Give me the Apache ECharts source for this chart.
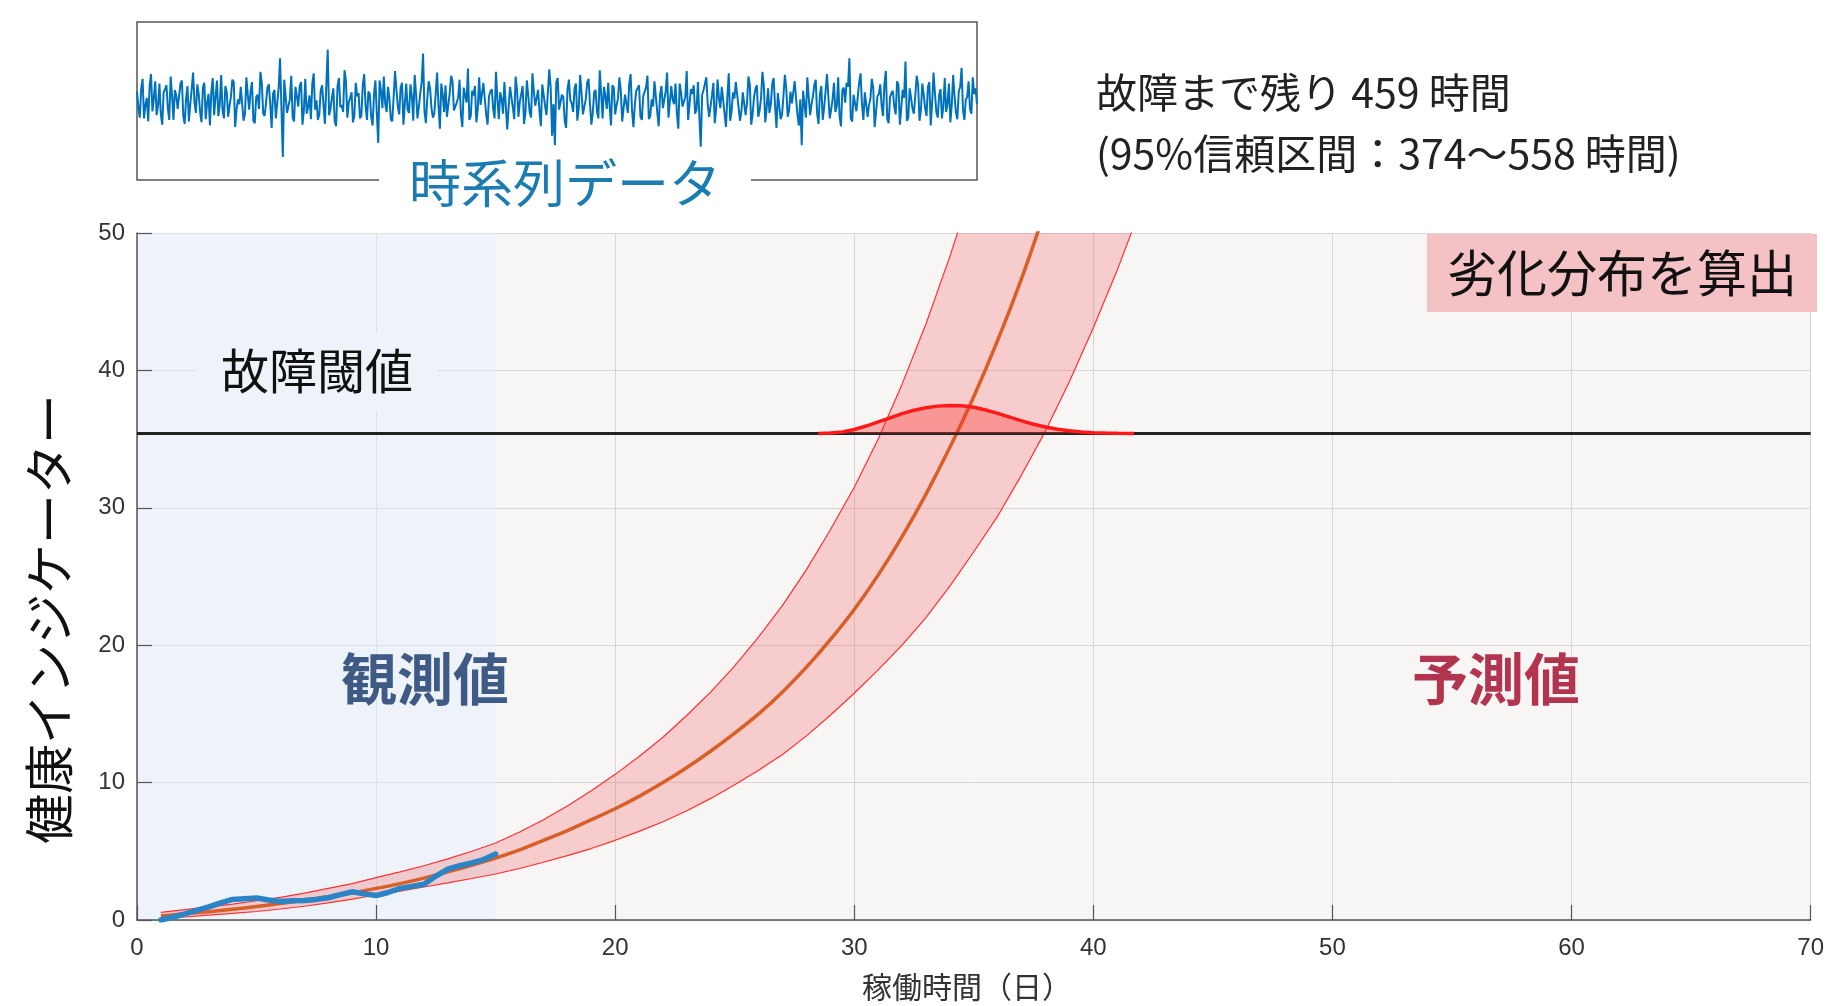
<!DOCTYPE html>
<html><head><meta charset="utf-8">
<script src="https://cdn.jsdelivr.net/npm/echarts@6.0.0/dist/echarts.min.js"></script>
<style>html,body{margin:0;padding:0;background:#fff;}#c{width:1827px;height:1006px;}</style>
</head><body><div id="c"></div>
<script>
// ---- data ----
const predX = [1,2,3,4,5,6,7,8,9,10,11,12,13,14,15,16,17,18,19,20,21,22,23,24,25,26,27,28,29,30,31,32,33,34,35,36,37,38];
const predMean = [0.3,0.45,0.6,0.78,0.98,1.2,1.43,1.7,1.98,2.3,2.65,3.05,3.5,3.98,4.5,5.1,5.8,6.5,7.3,8.1,9.0,10.0,11.1,12.3,13.6,15.0,16.6,18.4,20.4,22.6,25.1,27.9,31.0,34.4,38.1,42.2,46.7,51.7];
const bandX = [1,2,3,4,5,6,7,8,9,10,11,12,13,14,15,16,17,18,19,20,21,22,23,24,25,26,27,28,29,30,31,32,33,34,35,36,37,38,39,40,41,42];
const bandUpper = [0.55,0.75,0.95,1.15,1.4,1.65,1.95,2.3,2.65,3.08,3.5,3.95,4.45,5.0,5.6,6.4,7.3,8.3,9.4,10.6,11.9,13.3,14.9,16.6,18.5,20.6,22.9,25.5,28.4,31.5,35.0,39.0,43.4,48.3,53.7,59.7,66.4,73.8,82.0,91.1,101.2,112.5];
const bandLower = [0.1,0.22,0.35,0.48,0.62,0.8,1.0,1.25,1.52,1.82,2.1,2.4,2.7,3.02,3.35,3.75,4.2,4.68,5.2,5.8,6.45,7.15,7.95,8.85,9.85,10.9,12.05,13.4,14.9,16.5,18.2,20.0,22.0,24.3,26.8,29.4,32.4,35.6,39.2,43.1,47.3,51.9];
const obsX = [1,1.5,2,2.5,3,3.5,4,4.5,5,5.5,6,6.5,7,7.5,8,8.5,9,9.5,10,10.5,11,11.5,12,12.5,13,13.5,14,14.5,15];
const obsY = [0.0,0.2,0.45,0.7,0.95,1.25,1.5,1.55,1.6,1.45,1.35,1.4,1.42,1.5,1.62,1.85,2.05,1.9,1.78,2.0,2.3,2.45,2.6,3.2,3.7,3.95,4.15,4.4,4.8];
const distX = [28.5,29,29.5,30,30.5,31,31.5,32,32.5,33,33.5,34,34.5,35,35.5,36,36.5,37,37.5,38,38.5,39,39.5,40,40.5,41,41.7];
const distH = [0,0.05,0.12,0.3,0.55,0.85,1.15,1.45,1.7,1.88,2.0,2.05,2.03,1.92,1.72,1.47,1.2,0.93,0.68,0.48,0.32,0.2,0.12,0.07,0.04,0.02,0];
const threshold = 35.4;
const obsRange = [0, 15];
const noiseA = [
1.2,-2.1,2.8,-0.5,-2.6,3.4,0.3,-1.8,2.2,-3.0,1.5,-0.9,3.1,-2.4,0.7,-1.2,2.6,-2.9,1.9,-0.4,
3.6,-1.5,0.9,-2.7,2.3,-0.2,-3.1,2.9,0.5,-1.9,3.3,-2.2,1.1,-0.6,2.7,-3.3,0.2,1.8,-2.5,3.0,
-1.1,2.4,-2.8,0.8,3.7,-1.6,-0.3,2.1,-3.4,1.4,-2.0,5.4,-7.1,2.5,-1.3,3.2,-2.6,0.6,1.9,-3.0,
2.8,-0.8,-2.3,3.5,0.1,-1.7,2.0,-2.9,6.5,-1.0,1.6,-3.2,2.9,-0.5,3.9,-2.1,0.4,-2.7,2.3,1.0,
-1.8,3.4,-2.4,0.9,-3.1,2.6,-5.3,1.3,3.1,-1.4,0.3,-2.6,3.8,-0.7,1.7,-3.0,2.2,-1.5,0.6,3.3,
-2.2,1.0,6.0,-2.8,2.5,-0.9,-1.6,3.6,-3.5,0.8,2.0,-2.0,3.2,-1.2,-0.2,2.7,-3.3,1.5,4.1,-1.9,
0.7,-2.7,3.0,-0.4,2.1,-3.0,1.2,-1.0,3.7,-2.3,0.3,2.4,-3.6,1.8,-0.8,3.1,-2.0,0.9,-2.9,2.6,
-1.4,3.5,-0.6,1.4,-3.2,2.2,-1.8,4.0,-4.4,-5.6,2.9,-1.1,0.5,-3.4,2.7,-0.3,1.6,-2.5,3.3,-1.7,
0.2,2.8,-3.0,1.1,-1.3,3.9,-2.2,0.6,2.3,-3.1,1.7,-0.5,3.0,-2.6,0.8,-1.5,3.4,-3.3,1.3,2.0,
-2.4,0.4,3.2,-1.9,-0.7,2.5,-3.2,1.9,-1.0,3.6,-2.1,0.1,2.2,-3.5,1.0,-0.6,3.8,-2.3,0.9,-1.6,
2.4,-5.8,1.4,3.0,-2.0,0.7,-2.8,2.7,-0.9,1.8,-3.3,3.5,-1.3,0.3,2.6,-2.5,1.1,-1.8,3.1,-3.0,
0.5,2.0,-1.2,3.7,-2.7,1.6,-0.4,2.9,-3.4,0.8,-1.7,3.3,-2.0,1.2,-0.1,2.4,-3.1,-5.6,1.5,3.0,
-1.8,0.6,2.7,-2.9,1.9,-0.8,3.4,-2.2,0.2,-1.4,3.0,-3.2,1.7,2.3,5.4,-2.6,0.9,-1.1,3.5,-2.4,
1.3,-0.5,2.8,-3.3,0.6,2.1,-1.9,3.8,-2.8,1.0,-0.7,2.5,-3.0,1.4,5.0,-2.1,0.4,-1.6,3.2,-2.5,
2.2,-0.9,1.8,-3.1,3.6,-1.4,0.8,-2.2,2.9,-0.3,-2.7,3.3,-1.5,1.2,4.2,-2.4,0.5,-1.0,3.0,1.6
];
const noiseB = [
-0.8,1.6,-2.2,0.4,1.9,-1.3,2.5,-0.6,-1.7,1.1,2.0,-2.4,0.7,1.4,-1.0,2.2,-1.9,0.3,-2.6,1.5,
-0.2,2.1,-1.4,1.7,-2.3,0.9,1.2,-1.8,2.6,-0.5,-1.2,1.9,-2.0,0.6,2.4,-1.1,-0.4,2.0,-1.6,0.8,
1.3,-2.5,0.5,-1.0,2.3,-1.9,1.7,-0.3,0.9,-2.2,1.6,-0.9,2.7,-1.5,0.2,-2.1,1.8,-0.7,2.4,-1.2,
-1.6,0.7,2.2,-1.1,-2.4,1.3,-0.5,2.0,-1.8,0.4,-2.6,1.9,-0.8,-1.4,2.5,-0.2,1.1,-1.9,0.6,-2.2,
2.0,-0.6,1.2,-2.0,0.8,-1.5,2.6,-0.9,-0.3,1.8,-2.3,0.5,1.4,-1.7,2.3,-0.4,-1.1,2.1,-2.5,0.9,
-0.7,2.4,-1.3,0.3,1.6,-2.1,0.9,-0.6,2.2,-1.4,-2.0,1.0,2.5,-1.2,0.4,-1.8,1.7,-0.2,-2.4,1.3,
1.9,-1.0,-0.5,2.3,-1.7,0.6,1.5,-2.2,0.2,1.1,-1.6,2.6,-0.8,0.5,-2.3,1.4,-0.1,1.9,-1.5,0.7,
-2.1,1.2,0.4,-1.3,2.1,-0.6,-1.9,1.7,-0.4,2.4,-1.1,0.8,-2.5,1.5,0.1,-1.4,2.2,-0.9,1.0,-1.8,
2.3,-0.3,-1.5,1.4,-2.2,0.9,1.8,-1.0,-0.6,2.0,-1.7,0.3,1.3,-2.4,0.7,2.1,-1.2,-0.5,1.6,-2.0,
0.6,1.7,-2.3,0.2,2.5,-1.4,0.8,-0.9,1.2,-2.1,1.9,-0.4,-1.6,2.2,-0.7,0.5,-2.4,1.5,2.0,-1.1,
-1.9,0.8,1.4,-0.5,-2.2,2.3,-1.0,0.3,1.8,-1.6,0.6,-2.5,1.1,2.4,-0.8,-1.3,0.9,-0.2,2.1,-1.7,
1.5,-2.0,0.4,1.9,-0.9,-1.5,2.2,-0.6,1.0,-2.3,0.7,1.6,-1.2,-0.3,2.5,-1.8,0.2,1.3,-2.1,0.5,
-0.4,2.0,-1.6,0.9,-2.4,1.2,0.6,-1.1,2.3,-0.7,-1.9,1.4,-0.2,1.8,-2.2,0.8,-1.3,2.4,-0.5,1.1,
-2.0,0.3,1.7,-1.4,0.9,-0.6,2.2,-2.3,0.5,1.3,-1.7,2.0,-0.8,0.4,-2.5,1.6,-1.0,0.7,2.1,-1.2,
0.8,-1.9,2.4,-0.3,1.0,-2.1,1.5,-0.7,-1.4,2.2,-0.5,0.6,-2.3,1.8,-1.1,0.2,2.5,-1.6,0.9,-0.4
];
const texts = {
  threshold: '故障閾値', observed: '観測値', predicted: '予測値', dist: '劣化分布を算出',
  rul1: '故障まで残り 459 時間', rul2: '(95%信頼区間：374～558 時間)',
  ts: '時系列データ', yName: '健康インジケーター', xName: '稼働時間（日）'
};

// ---- chart ----
const CJK = '"Noto Sans CJK JP", "Noto Sans", sans-serif';
const NUM = '"Liberation Sans Narrow", "Liberation Sans", Roboto, sans-serif';
const PRED_BG = '#F8F5F5';
const OBS_TINT = 'rgba(223,240,255,0.42)';
const zip = (xs, ys) => xs.map((x, i) => [x, ys[i]]);
const noise = noiseA.flatMap((a, i) => [a, noiseB[i]]);
const distTop = distH.map(h => threshold + h);
const chart = echarts.init(document.getElementById('c'), null, {renderer: 'canvas'});
const axisCommon = {
  z: 1,
  axisLine: {show: true, lineStyle: {color: '#555', width: 1.5}},
  axisTick: {show: true, inside: true, length: 15, lineStyle: {color: '#555', width: 1.2}},
  splitLine: {show: true, lineStyle: {color: '#d6d6d6', width: 1}},
  axisLabel: {color: '#333', fontSize: 24, fontFamily: NUM}
};
function clipRect(params) {
  const c = params.coordSys;
  return {type: 'rect', shape: {x: c.x, y: c.y, width: c.width, height: c.height}};
}
const option = {
  animation: false,
  grid: [
    {left: 137, right: 11, top: 233, bottom: 86, containLabel: false, show: true, backgroundColor: PRED_BG, borderWidth: 0},
    {left: 137, top: 22, width: 840, height: 158, show: true, backgroundColor: '#fff', borderColor: '#555', borderWidth: 1.5}
  ],
  xAxis: [
    Object.assign({type: 'value', gridIndex: 0, min: 0, max: 70, interval: 10}, axisCommon, {axisLabel: Object.assign({}, axisCommon.axisLabel, {margin: 16})}),
    {type: 'value', gridIndex: 1, min: 0, max: noise.length - 1, show: false}
  ],
  yAxis: [
    Object.assign({type: 'value', gridIndex: 0, min: 0, max: 50, interval: 10}, axisCommon, {axisLabel: Object.assign({}, axisCommon.axisLabel, {margin: 12})}),
    {type: 'value', gridIndex: 1, min: -10, max: 10, show: false}
  ],
  series: [
    {type: 'line', data: [], z: 0, silent: true, xAxisIndex: 0, yAxisIndex: 0,
      markArea: {silent: true, data: [
        [{xAxis: obsRange[0], itemStyle: {color: OBS_TINT}}, {xAxis: obsRange[1]}]
      ]}},
    {type: 'custom', coordinateSystem: 'cartesian2d', xAxisIndex: 0, yAxisIndex: 0, data: [[bandX[0], bandLower[0]]], silent: true, z: 2, clip: true,
      renderItem: (params, api) => {
        const up = bandX.map((x, i) => api.coord([x, bandUpper[i]]));
        const lo = bandX.map((x, i) => api.coord([x, bandLower[i]])).reverse();
        return {type: 'polygon', shape: {points: up.concat(lo)}, style: {fill: 'rgba(240,60,60,0.22)'}, clipPath: clipRect(params)};
      }},
    {type: 'line', data: zip(bandX, bandUpper), symbol: 'none', lineStyle: {color: '#ff3030', width: 1.2}, silent: true, z: 3},
    {type: 'line', data: zip(bandX, bandLower), symbol: 'none', lineStyle: {color: '#ff3030', width: 1.2}, silent: true, z: 3},
    {type: 'line', data: zip(predX, predMean), symbol: 'none', smooth: 0.3, lineStyle: {color: '#D95F26', width: 3.5}, silent: true, z: 4},
    {type: 'line', data: zip(obsX, obsY), symbol: 'none', lineStyle: {color: '#2A84C6', width: 5.5, cap: 'round', join: 'round'}, silent: true, z: 5},
    {type: 'line', data: [[0, threshold], [70, threshold]], symbol: 'none', lineStyle: {color: '#222', width: 3}, silent: true, z: 6},
    {type: 'custom', coordinateSystem: 'cartesian2d', xAxisIndex: 0, yAxisIndex: 0, data: [[distX[0], threshold]], silent: true, z: 7, clip: true,
      renderItem: (params, api) => {
        const top = distX.map((x, i) => api.coord([x, distTop[i]]));
        const base = [api.coord([distX[distX.length - 1], threshold]), api.coord([distX[0], threshold])];
        return {type: 'polygon', shape: {points: top.concat(base)}, style: {fill: 'rgba(255,50,50,0.35)'}, clipPath: clipRect(params)};
      }},
    {type: 'line', data: zip(distX, distTop), symbol: 'none', lineStyle: {color: '#FF1A1A', width: 3.5}, silent: true, z: 8},
    {type: 'line', xAxisIndex: 1, yAxisIndex: 1, data: noise.map((v, i) => [i, v]), symbol: 'none',
      lineStyle: {color: '#0072BD', width: 2}, silent: true, z: 2}
  ],
  graphic: [
    {type: 'rect', z: 48, shape: {x: 197, y: 333, width: 240, height: 78}, style: {fill: PRED_BG}},
    {type: 'rect', z: 49, shape: {x: 197, y: 333, width: 240, height: 78}, style: {fill: OBS_TINT}},
    {type: 'text', x: 317, y: 371, z: 50, style: {text: texts.threshold, font: '48px ' + CJK, fill: '#111', align: 'center', verticalAlign: 'middle'}},
    {type: 'text', x: 425, y: 679, z: 50, style: {text: texts.observed, font: 'bold 56px ' + CJK, fill: '#3F5B85', align: 'center', verticalAlign: 'middle'}},
    {type: 'text', x: 1496, y: 679, z: 50, style: {text: texts.predicted, font: 'bold 56px ' + CJK, fill: '#B3344F', align: 'center', verticalAlign: 'middle'}},
    {type: 'rect', z: 50, shape: {x: 1427, y: 234, width: 390, height: 78}, style: {fill: '#F4C2C4'}},
    {type: 'text', x: 1622, y: 273, z: 51, style: {text: texts.dist, font: '50px ' + CJK, fill: '#111', align: 'center', verticalAlign: 'middle'}},
    {type: 'text', x: 1096, y: 92, z: 50, style: {text: texts.rul1, font: '41px ' + CJK, fill: '#222', align: 'left', verticalAlign: 'middle'}},
    {type: 'text', x: 1096, y: 153, z: 50, style: {text: texts.rul2, font: '41px ' + CJK, fill: '#222', align: 'left', verticalAlign: 'middle'}},
    {type: 'text', x: 565, y: 183, z: 50, style: {text: texts.ts, font: '52px ' + CJK, fill: '#1B7CB2', align: 'center', verticalAlign: 'middle', backgroundColor: '#fff', padding: [4, 30]}},
    {type: 'text', x: 49, y: 619, rotation: Math.PI / 2, z: 50, style: {text: texts.yName, font: '50px ' + CJK, fill: '#111', align: 'center', verticalAlign: 'middle'}},
    {type: 'text', x: 967, y: 987, z: 50, style: {text: texts.xName, font: '30px ' + CJK, fill: '#333', align: 'center', verticalAlign: 'middle'}}
  ]
};
chart.setOption(option);
</script></body></html>
